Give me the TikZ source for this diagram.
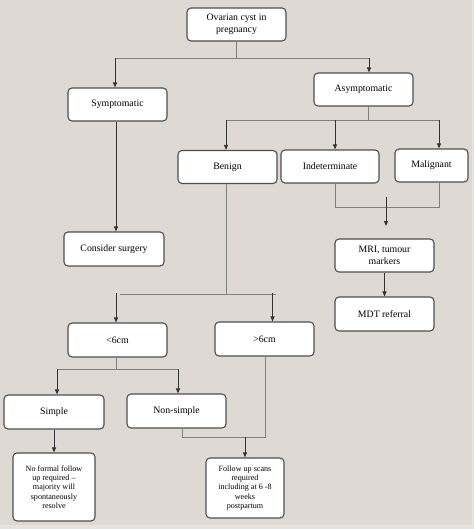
\documentclass[tikz,border=0pt]{standalone}
\usepackage{fontspec}
\setmainfont{Liberation Serif}
\usetikzlibrary{arrows.meta}
\definecolor{bgc}{HTML}{DEDAD3}
\definecolor{bgl}{HTML}{E6E3DD}
\definecolor{boxline}{HTML}{4E4E4E}
\definecolor{lngrey}{HTML}{808080}
\definecolor{arrdark}{HTML}{333333}
\begin{document}
\begin{tikzpicture}[x=1pt,y=-1pt,
  box/.style={draw=boxline, line width=1.1pt, fill=white, rounded corners=4pt,
    align=center, inner sep=0pt, font=\fontsize{9.8}{12}\selectfont},
  smallbox/.style={box, font=\fontsize{8.1}{9.35}\selectfont},
  ln/.style={draw=lngrey, line width=0.9pt},
  arr/.style={draw=arrdark, line width=1pt, -{Triangle[length=5pt,width=4pt]}}]
\useasboundingbox (0,0) rectangle (474,529);
\fill[bgc] (0,0) rectangle (474,529);
\fill[bgl] (0,525) rectangle (474,529);
\fill[bgl] (472,0) rectangle (474,529);

% nodes
\node[box, minimum width=99pt, minimum height=33pt] (ov) at (236.5,24.5) {Ovarian cyst in\\pregnancy};
\node[box, minimum width=99pt, minimum height=33pt] (sym) at (117.5,104.5) {Symptomatic};
\node[box, minimum width=99pt, minimum height=33pt] (asym) at (363.5,89.5) {Asymptomatic};
\node[box, minimum width=99pt, minimum height=33pt] (ben) at (227.5,167) {Benign};
\node[box, minimum width=98pt, minimum height=33pt] (ind) at (330,166.5) {Indeterminate};
\node[box, minimum width=73pt, minimum height=33pt] (mal) at (431.5,165.5) {Malignant};
\node[box, minimum width=100pt, minimum height=34pt] (cs) at (114,249) {Consider surgery};
\node[box, minimum width=99pt, minimum height=33pt] (mri) at (384.5,255.5) {MRI, tumour\\markers};
\node[box, minimum width=99pt, minimum height=34pt] (mdt) at (384.5,314) {MDT referral};
\node[box, minimum width=99pt, minimum height=34pt] (lt6) at (117.5,340) {<6cm};
\node[box, minimum width=99pt, minimum height=34pt] (gt6) at (264.5,339) {>6cm};
\node[box, minimum width=100pt, minimum height=34pt] (simp) at (54,412) {Simple};
\node[box, minimum width=99pt, minimum height=34pt] (nons) at (176.5,411) {Non-simple};
\node[smallbox, minimum width=82pt, minimum height=68pt] (nof) at (54,487) {No formal follow\\up required –\\majority will\\spontaneously\\resolve};
\node[smallbox, minimum width=78pt, minimum height=60pt] (fol) at (245,488) {Follow up scans\\required\\including at 6 -8\\weeks\\postpartum};

% connectors: top level
\coordinate (a0) at (236,58);
\coordinate (a1) at (115,58);
\coordinate (a2) at (369,58);
\draw[ln] (ov.south -| a0) -- (a0);
\draw[ln] (a1) -- (a2);
\draw[arr] (a1) -- (a1 |- sym.north);
\draw[arr] (a2) -- (a2 |- asym.north);

% asymptomatic split
\coordinate (b0) at (368,120);
\coordinate (b1) at (226,120);
\coordinate (b2) at (335,120);
\coordinate (b3) at (439,120);
\draw[ln] (asym.south -| b0) -- (b0);
\draw[ln] (b1) -- (b3);
\draw[arr] (b1) -- (b1 |- ben.north);
\draw[arr] (b2) -- (b2 |- ind.north);
\draw[arr] (b3) -- (b3 |- mal.north);

% symptomatic -> surgery
\coordinate (s0) at (116,121);
\draw[arr] (sym.south -| s0) -- (s0 |- cs.north);

% benign split
\coordinate (c0) at (226,294);
\coordinate (c1) at (120,294);
\coordinate (c2) at (276,294);
\coordinate (d1) at (116,293);
\coordinate (d2) at (272.5,293);
\draw[ln] (ben.south -| c0) -- (c0);
\draw[ln] (c1) -- (c2);
\draw[arr] (d1) -- (d1 |- lt6.north);
\draw[arr] (d2) -- (d2 |- gt6.north);

% indeterminate / malignant join
\coordinate (e1) at (335,207);
\coordinate (e2) at (439,207);
\draw[ln] (ind.south -| e1) -- (e1) -- (e2) -- (e2 |- mal.south);
\coordinate (f1) at (386,197);
\coordinate (f2) at (386,226);
\draw[arr] (f1) -- (f2);

% MRI -> MDT
\draw[arr] (mri) -- (mdt);

% <6cm split
\coordinate (g0) at (116,369);
\coordinate (g1) at (57,369);
\coordinate (g2) at (178,369);
\draw[ln] (lt6.south -| g0) -- (g0);
\draw[ln] (g1) -- (g2);
\draw[arr] (g1) -- (g1 |- simp.north);
\draw[arr] (g2) -- (g2 |- nons.north);

% simple -> no formal
\draw[arr] (simp) -- (nof);

% non-simple / >6cm join
\coordinate (h1) at (182,437);
\coordinate (h2) at (265,437);
\coordinate (h3) at (245,437);
\draw[ln] (nons.south -| h1) -- (h1) -- (h2) -- (h2 |- gt6.south);
\draw[arr] (h3) -- (h3 |- fol.north);
\end{tikzpicture}
\end{document}
